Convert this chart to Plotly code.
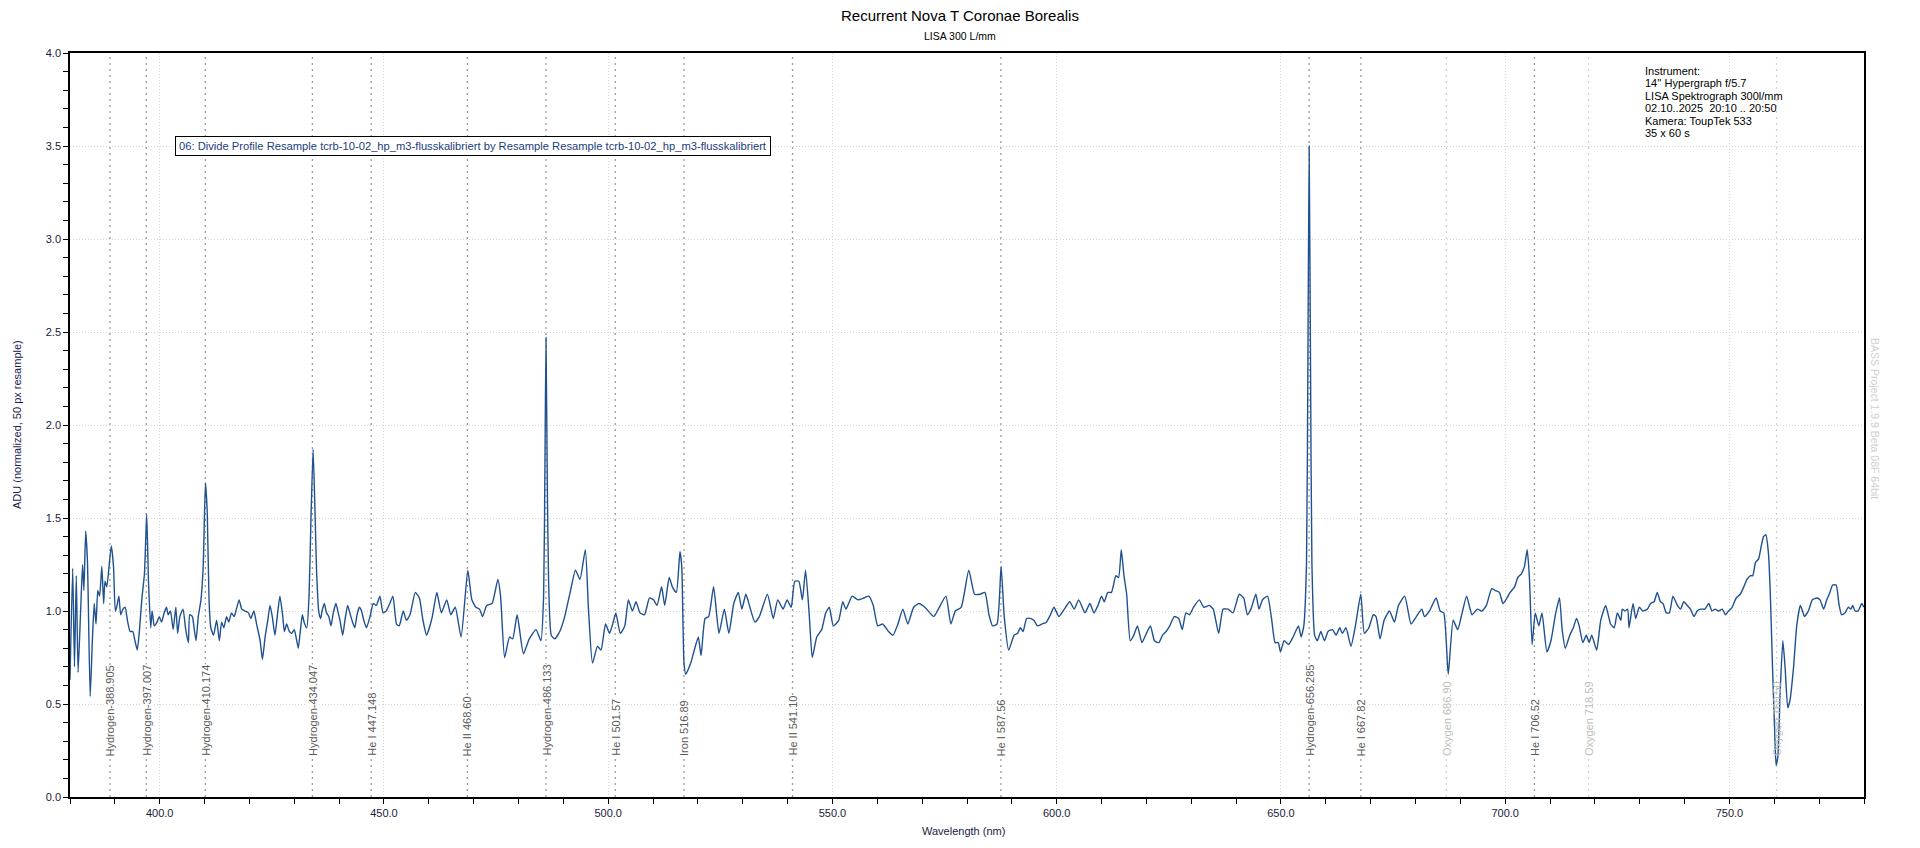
import plotly.graph_objects as go

# ---------------- data ----------------
wavelength_nm = [
    380.0, 380.6, 381.0, 381.4, 381.8, 382.4, 382.8, 383.1, 383.5, 383.9,
    384.5, 385.0, 385.4, 385.8, 386.2, 386.6, 387.1, 387.5, 387.8, 388.2,
    389.2, 389.7, 390.1, 390.4, 390.9, 391.3, 391.8, 392.3, 392.8, 393.4,
    394.0, 394.4, 395.0, 395.5, 396.0, 396.6, 397.1, 397.5, 398.0, 398.3,
    398.8, 399.4, 399.9, 400.4, 401.0, 401.5, 401.9, 402.4, 403.0, 403.6,
    404.0, 404.5, 405.2, 405.8, 406.4, 406.7, 407.3, 407.6, 408.1, 408.6,
    409.2, 409.7, 410.2, 410.6, 411.0, 411.4, 412.0, 412.7, 413.3, 413.8,
    414.3, 414.9, 415.4, 416.0, 416.6, 417.1, 417.7, 418.3, 419.0, 419.8,
    420.3, 421.0, 421.6, 422.4, 422.9, 423.5, 424.1, 424.6, 425.1, 425.7,
    426.3, 426.8, 427.4, 427.8, 428.3, 428.9, 429.4, 430.0, 430.4, 430.9,
    431.3, 431.8, 432.2, 432.8, 433.3, 433.7, 434.2, 434.6, 435.0, 435.5,
    435.9, 436.2, 436.7, 437.2, 437.7, 438.2, 438.7, 439.3, 439.8, 440.2,
    440.8, 441.3, 441.9, 442.4, 443.0, 443.5, 444.0, 444.5, 445.0, 445.5,
    446.1, 446.9, 447.6, 448.3, 449.1, 449.8, 450.5, 451.3, 452.0, 452.8,
    453.4, 454.3, 455.0, 455.8, 457.0, 457.9, 458.7, 459.5, 460.7, 461.8,
    462.8, 464.0, 464.9, 465.9, 467.2, 468.7, 469.6, 470.5, 471.3, 472.0,
    472.9, 474.1, 475.4, 476.0, 476.9, 478.0, 478.7, 479.7, 481.1, 482.4,
    483.9, 485.0, 485.6, 485.9, 486.13, 486.4, 486.7, 487.3, 488.1, 489.2,
    490.3, 491.6, 492.7, 493.7, 494.9, 495.6, 496.5, 497.6, 498.4, 499.4,
    500.3, 501.0, 501.7, 502.7, 503.7, 504.5, 505.4, 506.2, 507.1, 508.1,
    509.2, 510.1, 510.9, 511.9, 512.6, 513.6, 514.3, 515.2, 516.0, 516.4,
    516.9, 517.3, 518.4, 519.2, 520.1, 520.7, 521.6, 522.4, 523.5, 524.7,
    525.9, 526.9, 528.0, 529.0, 529.8, 530.7, 531.6, 532.7, 533.7, 535.5,
    536.8, 537.8, 539.0, 539.9, 540.8, 541.6, 542.5, 543.3, 544.0, 544.8,
    545.5, 546.5, 547.6, 548.5, 549.3, 550.2, 551.4, 552.3, 553.0, 554.4,
    555.7, 557.0, 558.1, 559.1, 560.1, 561.2, 562.5, 563.5, 564.6, 565.7,
    566.8, 568.1, 569.3, 570.6, 572.6, 573.6, 575.3, 576.4, 577.4, 578.7,
    580.4, 581.7, 582.9, 584.0, 584.9, 585.7, 586.7, 587.6, 588.3, 589.3,
    590.5, 591.3, 591.9, 592.5, 593.3, 594.1, 594.9, 595.7, 596.7, 597.7,
    598.6, 599.4, 600.5, 601.7, 602.9, 603.9, 604.9, 606.3, 607.4, 608.3,
    609.2, 610.0, 610.6, 611.4, 612.2, 613.2, 613.8, 614.4, 615.0, 615.6,
    616.4, 617.2, 618.0, 619.0, 620.0, 620.9, 621.8, 622.8, 623.6, 624.4,
    625.2, 626.2, 627.2, 628.0, 628.8, 629.6, 630.5, 631.8, 632.8, 634.0,
    634.9, 636.1, 637.1, 638.2, 639.3, 640.7, 641.7, 642.5, 643.3, 644.4,
    645.1, 645.9, 647.0, 647.9, 648.7, 649.4, 649.9, 650.7, 651.7, 652.7,
    653.9, 654.5, 655.1, 655.7, 656.0, 656.285, 656.6, 656.9, 657.5, 658.1,
    658.9, 659.7, 660.5, 661.5, 662.3, 663.1, 663.7, 664.5, 665.6, 666.6,
    667.8, 668.6, 669.6, 670.6, 671.2, 672.1, 673.0, 674.2, 675.3, 676.2,
    677.6, 679.0, 680.2, 681.4, 682.0, 683.1, 684.6, 685.5, 686.3, 687.3,
    688.4, 689.4, 690.4, 691.4, 692.6, 693.8, 694.8, 695.8, 697.0, 697.8,
    698.7, 699.5, 700.4, 701.1, 702.1, 702.8, 703.6, 704.3, 704.9, 705.4,
    706.0, 706.7, 707.5, 708.2, 709.3, 710.2, 711.2, 712.1, 712.7, 713.4,
    714.4, 715.2, 715.9, 716.5, 717.3, 718.1, 718.7, 719.3, 720.4, 721.3,
    722.4, 723.5, 724.3, 725.0, 725.8, 726.1, 726.7, 727.3, 727.6, 728.5,
    729.1, 729.9, 730.7, 731.7, 732.4, 733.2, 733.9, 734.6, 735.2, 735.9,
    736.6, 737.4, 738.4, 739.1, 739.8, 740.6, 741.3, 742.1, 742.8, 743.5,
    744.5, 745.4, 746.1, 746.8, 747.6, 748.4, 749.1, 749.8, 750.6, 751.5,
    752.4, 753.2, 753.9, 754.7, 755.2, 755.8, 756.5, 757.1, 757.6, 758.1,
    758.7, 759.1, 759.6, 760.1, 760.4, 760.8, 761.3, 761.9, 762.4, 763.0,
    763.5, 764.3, 765.0, 765.8, 766.3, 766.7, 767.6, 768.5, 769.5, 770.2,
    771.0, 771.7, 772.4, 773.0, 773.8, 774.4, 775.0, 775.8, 776.5, 777.1,
    777.5, 778.0, 778.7, 779.5, 780.0,
]

flux_norm = [
    0.63, 1.23, 0.70, 1.19, 0.67, 1.02, 1.25, 1.11, 1.43, 1.26,
    0.54, 0.85, 1.04, 0.93, 1.11, 1.08, 1.24, 1.04, 1.16, 1.13,
    1.35, 1.24, 1.00, 1.02, 1.08, 0.98, 1.01, 1.02, 0.95, 0.89,
    0.89, 0.85, 0.79, 0.90, 1.06, 1.20, 1.52, 1.16, 0.91, 1.00,
    0.92, 0.94, 0.97, 0.94, 0.99, 1.02, 0.98, 1.00, 0.90, 1.02,
    0.88, 0.97, 1.01, 0.90, 0.83, 0.98, 0.97, 0.92, 0.84, 0.97,
    1.06, 1.24, 1.69, 1.53, 1.06, 0.91, 0.87, 0.95, 0.84, 0.94,
    0.91, 0.97, 0.94, 0.99, 0.97, 1.01, 1.06, 1.01, 1.00, 0.99,
    0.96, 1.00, 0.93, 0.84, 0.74, 0.86, 0.95, 1.03, 0.97, 0.87,
    0.99, 1.08, 0.98, 0.89, 0.93, 0.89, 0.88, 0.90, 0.86, 0.80,
    0.88, 0.98, 0.94, 0.91, 1.08, 1.47, 1.87, 1.56, 1.20, 0.99,
    0.96, 1.00, 1.04, 0.99, 0.97, 0.92, 0.99, 1.04, 0.99, 0.95,
    0.87, 0.95, 1.03, 0.99, 0.94, 0.91, 0.98, 1.02, 1.00, 0.95,
    0.91, 0.97, 1.04, 1.03, 1.08, 0.99, 1.00, 1.04, 1.08, 0.93,
    0.92, 1.00, 0.95, 0.98, 1.10, 1.07, 0.95, 0.87, 0.96, 1.10,
    0.99, 1.06, 0.98, 1.02, 0.86, 1.22, 1.06, 1.02, 1.01, 0.97,
    1.03, 1.04, 1.17, 1.08, 0.75, 0.86, 0.85, 0.98, 0.77, 0.85,
    0.90, 0.84, 1.08, 1.80, 2.47, 1.75, 1.17, 0.87, 0.85, 0.89,
    0.97, 1.11, 1.22, 1.17, 1.33, 1.01, 0.72, 0.81, 0.79, 0.93,
    0.88, 0.93, 0.99, 0.88, 0.92, 1.06, 1.00, 1.05, 0.99, 0.98,
    1.07, 1.06, 1.03, 1.13, 1.03, 1.18, 1.13, 1.10, 1.32, 1.24,
    0.72, 0.66, 0.72, 0.79, 0.86, 0.76, 0.96, 0.97, 1.13, 0.88,
    1.01, 0.88, 1.04, 1.10, 1.01, 1.09, 1.02, 0.94, 0.97, 1.09,
    0.96, 1.06, 1.01, 1.06, 1.02, 1.16, 1.16, 1.06, 1.22, 0.99,
    0.75, 0.86, 0.90, 0.99, 1.02, 0.92, 0.95, 1.05, 1.01, 1.08,
    1.06, 1.07, 1.08, 1.03, 0.92, 0.93, 0.89, 0.87, 0.93, 1.01,
    0.93, 1.02, 1.04, 1.02, 0.97, 1.01, 1.08, 0.93, 1.00, 1.02,
    1.22, 1.09, 1.09, 1.10, 0.98, 0.92, 0.93, 1.24, 0.97, 0.79,
    0.87, 0.88, 0.91, 0.89, 0.96, 0.96, 0.95, 0.92, 0.93, 0.94,
    0.98, 1.02, 0.97, 1.01, 1.05, 1.01, 1.06, 0.99, 1.04, 0.99,
    1.03, 1.08, 1.05, 1.10, 1.10, 1.19, 1.18, 1.33, 1.19, 1.09,
    0.84, 0.87, 0.92, 0.83, 0.88, 0.92, 0.84, 0.83, 0.87, 0.89,
    0.92, 0.97, 0.96, 0.90, 0.99, 0.98, 1.02, 1.06, 1.02, 1.03,
    1.01, 0.88, 1.01, 1.01, 0.99, 1.09, 1.07, 0.98, 1.01, 1.09,
    1.01, 1.06, 1.08, 0.96, 0.83, 0.83, 0.78, 0.84, 0.82, 0.86,
    0.92, 0.86, 0.92, 1.26, 2.30, 3.50, 2.30, 1.26, 0.87, 0.84,
    0.89, 0.84, 0.89, 0.90, 0.87, 0.91, 0.88, 0.91, 0.81, 0.92,
    1.09, 0.88, 0.91, 0.98, 0.97, 0.85, 0.95, 1.00, 0.94, 1.03,
    1.08, 0.93, 0.97, 1.01, 0.97, 1.00, 1.07, 1.00, 0.99, 0.66,
    0.95, 0.90, 0.99, 1.08, 0.98, 1.01, 1.00, 1.03, 1.12, 1.11,
    1.10, 1.04, 1.07, 1.10, 1.13, 1.18, 1.20, 1.24, 1.33, 1.18,
    0.82, 0.99, 0.92, 0.99, 0.78, 0.84, 0.98, 1.07, 0.90, 0.80,
    0.87, 0.91, 0.96, 0.92, 0.83, 0.87, 0.83, 0.87, 0.79, 0.95,
    1.03, 0.93, 0.91, 0.99, 0.95, 1.01, 1.00, 1.01, 0.91, 1.04,
    0.96, 1.02, 1.00, 1.01, 1.04, 1.05, 1.10, 1.05, 1.04, 0.99,
    0.99, 1.08, 1.03, 1.01, 1.05, 1.03, 1.01, 0.97, 1.00, 1.01,
    1.01, 1.04, 1.00, 1.01, 1.00, 1.01, 0.98, 1.00, 1.02, 1.07,
    1.09, 1.13, 1.17, 1.19, 1.19, 1.26, 1.28, 1.35, 1.40, 1.41,
    1.31, 1.10, 0.70, 0.34, 0.17, 0.22, 0.56, 0.84, 0.70, 0.48,
    0.52, 0.70, 0.92, 1.03, 1.00, 0.97, 1.00, 1.06, 1.07, 1.06,
    1.01, 1.06, 1.10, 1.14, 1.14, 1.04, 0.98, 0.99, 1.02, 1.01,
    1.03, 1.00, 1.00, 1.04, 1.02,
]

line_nm = [388.905, 397.007, 410.174, 434.047, 447.148, 468.60, 486.133,
           501.57, 516.89, 541.10, 587.56, 656.285, 667.82, 686.90,
           706.52, 718.59, 760.50]
line_labels = ["Hydrogen-388.905", "Hydrogen-397.007", "Hydrogen-410.174",
               "Hydrogen-434.047", "He I 447.148", "He II 468.60",
               "Hydrogen-486.133", "He I 501.57", "Iron 516.89",
               "He II 541.10", "He I 587.56", "Hydrogen-656.285",
               "He I 667.82", "Oxygen 686.90", "He I 706.52",
               "Oxygen 718.59", "Oxygen 760.50"]
line_telluric = [False, False, False, False, False, False, False, False,
                 False, False, False, False, False, True, False, True, True]

info_lines = ["Instrument:", "14'' Hypergraph f/5.7",
              "LISA Spektrograph 300l/mm", "02.10..2025  20:10 .. 20:50",
              "Kamera: ToupTek 533", "35 x 60 s"]

title_text = "Recurrent Nova T Coronae Borealis"
subtitle_text = "LISA 300 L/mm"
legend_text = ("06: Divide Profile Resample tcrb-10-02_hp_m3-flusskalibriert "
               "by Resample Resample tcrb-10-02_hp_m3-flusskalibriert")
watermark_text = "BASS Project 1.9.9 Beta 08F 64bit"
x_title = "Wavelength (nm)"
y_title = "ADU (normalized, 50 px resample)"

# ---------------- figure ----------------
# The page places the figure 8 px from the window's top-left corner,
# so the figure is 8 px smaller and the margins are shifted accordingly.
OFF = 8
W, H = 1920 - OFF, 848 - OFF
PLOT_L, PLOT_R, PLOT_T, PLOT_B = 70, 1864, 53, 797   # window pixels
L, T = PLOT_L - OFF, PLOT_T - OFF
PW, PH = PLOT_R - PLOT_L, PLOT_B - PLOT_T
R, B = W - L - PW, H - T - PH
FONT = "Liberation Sans, Arial, sans-serif"


def px_x(xp):   # window pixel column -> paper x
    return (xp - PLOT_L) / PW


def px_y(yp):   # window pixel row -> paper y
    return (PLOT_B - yp) / PH


fig = go.Figure()
fig.add_trace(go.Scatter(
    x=wavelength_nm, y=flux_norm, mode="lines",
    line=dict(color="#1f5190", width=1.4, shape="spline", smoothing=0.5),
    hoverinfo="skip", showlegend=False))

shapes = []
annotations = []
for nm, lab, tel in zip(line_nm, line_labels, line_telluric):
    shapes.append(dict(type="line", xref="x", yref="paper", x0=nm, x1=nm,
                       y0=0, y1=1, layer="below",
                       line=dict(color="#d0d0d0" if tel else "#9c9c9c",
                                 width=1.3, dash="2px,4px")))
    annotations.append(dict(
        x=nm, y=0.215, xref="x", yref="y", xanchor="center", yanchor="bottom",
        text=lab, textangle=-90, showarrow=False,
        font=dict(family=FONT, size=11, color="#bdbdbd" if tel else "#5a5a5a"),
        bgcolor="rgba(0,0,0,0)" if nm > 750 else "white", borderpad=0))

annotations.append(dict(
    x=px_x(175), y=3.5, xref="paper", yref="y", xanchor="left",
    yanchor="middle", text=legend_text, showarrow=False, align="left",
    font=dict(family=FONT, size=11.2, color="#1a3d7c"),
    bordercolor="black", borderwidth=1, borderpad=3, bgcolor="white"))

for i, t in enumerate(info_lines):
    annotations.append(dict(
        x=px_x(1643), y=px_y(71 + 12.4 * i), xref="paper", yref="paper",
        xanchor="left", yanchor="middle", text=t, showarrow=False,
        font=dict(family=FONT, size=11, color="black")))

annotations += [
    dict(x=px_x(960), y=px_y(15), xref="paper", yref="paper", text=title_text,
         showarrow=False, xanchor="center", yanchor="middle",
         font=dict(family=FONT, size=15, color="black")),
    dict(x=px_x(960), y=px_y(36), xref="paper", yref="paper",
         text=subtitle_text, showarrow=False, xanchor="center",
         yanchor="middle", font=dict(family=FONT, size=10.5, color="black")),
    dict(x=px_x(963), y=px_y(831), xref="paper", yref="paper", text=x_title,
         showarrow=False, xanchor="center", yanchor="middle",
         font=dict(family=FONT, size=11, color="#1a1a40")),
    dict(x=px_x(17), y=0.5, xref="paper", yref="paper", text=y_title,
         showarrow=False, xanchor="center", yanchor="middle", textangle=-90,
         font=dict(family=FONT, size=11, color="#1a1a50")),
    dict(x=px_x(1875), y=px_y(418), xref="paper", yref="paper",
         text=watermark_text, showarrow=False, xanchor="center",
         yanchor="middle", textangle=90,
         font=dict(family=FONT, size=10.5, color="#cfcfcf")),
]

fig.update_layout(
    width=W, height=H, margin=dict(l=L, r=R, t=T, b=B, pad=0),
    paper_bgcolor="white", plot_bgcolor="white",
    shapes=shapes, annotations=annotations, showlegend=False,
    font=dict(family=FONT, size=11, color="#1a1a3a"),
)
fig.update_xaxes(
    range=[380, 780], tickmode="linear", tick0=400, dtick=50,
    tickformat=".1f", ticks="outside", ticklen=5, tickcolor="black",
    showline=True, linecolor="black", linewidth=1.6, mirror=True,
    showgrid=True, gridcolor="#d4d4d4", griddash="1px,2px", gridwidth=1,
    zeroline=False,
    minor=dict(dtick=10, ticks="outside", ticklen=5, tickcolor="black",
               showgrid=False),
    tickfont=dict(family=FONT, size=11, color="#1a1a3a"),
)
fig.update_yaxes(
    range=[0, 4.0], tickmode="linear", tick0=0, dtick=0.5,
    tickformat=".1f", ticks="outside", ticklen=5, tickcolor="black",
    showline=True, linecolor="black", linewidth=1.6, mirror=True,
    showgrid=True, gridcolor="#d4d4d4", griddash="1px,2px", gridwidth=1,
    zeroline=False,
    minor=dict(dtick=0.1, ticks="outside", ticklen=5, tickcolor="black",
               showgrid=False),
    tickfont=dict(family=FONT, size=11, color="#1a1a3a"),
)

assert len(wavelength_nm) == len(flux_norm)
fig.write_html("out.html")
